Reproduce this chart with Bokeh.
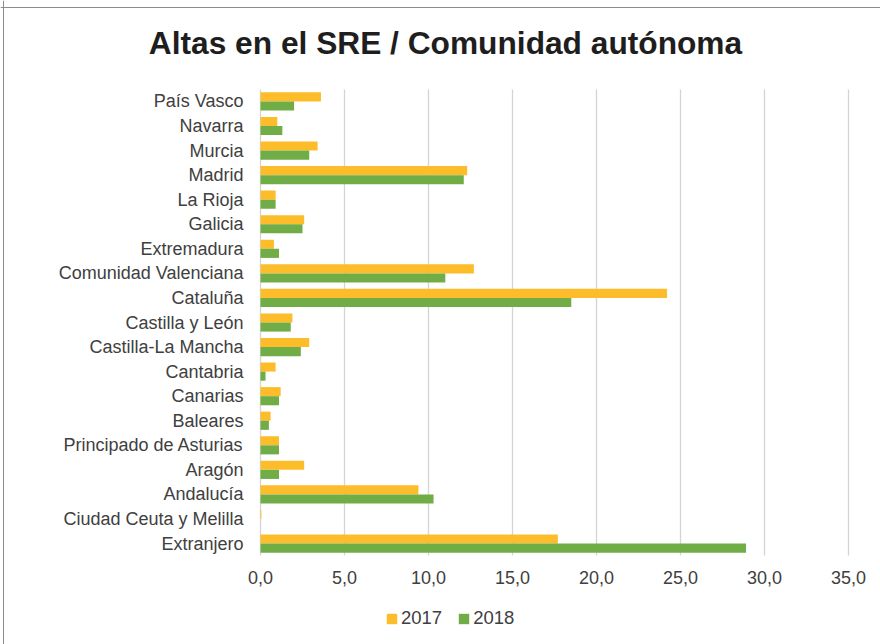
from bokeh.plotting import figure
from bokeh.models import (Range1d, FactorRange, FixedTicker, CustomJSTickFormatter,
                          Legend, LegendItem, Label, Span, ColumnDataSource)
from bokeh.transform import dodge
from bokeh.embed import file_html
from bokeh.resources import INLINE

title_text = "Altas en el SRE / Comunidad autónoma"
categories = ["País Vasco", "Navarra", "Murcia", "Madrid", "La Rioja", "Galicia",
              "Extremadura", "Comunidad Valenciana", "Cataluña", "Castilla y León",
              "Castilla-La Mancha", "Cantabria", "Canarias", "Baleares",
              "Principado de Asturias", "Aragón", "Andalucía",
              "Ciudad Ceuta y Melilla", "Extranjero"]
v2017 = [3.6, 1.0, 3.4, 12.3, 0.9, 2.6, 0.8, 12.7, 24.2, 1.9, 2.9, 0.9, 1.2, 0.6,
         1.1, 2.6, 9.4, 0.05, 17.7]
v2018 = [2.0, 1.3, 2.9, 12.1, 0.9, 2.5, 1.1, 11.0, 18.5, 1.8, 2.4, 0.3, 1.1, 0.5,
         1.1, 1.1, 10.3, 0.0, 28.9]
series_names = ["2017", "2018"]
x_ticks = [0, 5, 10, 15, 20, 25, 30, 35]

C2017 = "#FDBD2B"
C2018 = "#70AD47"
TEXT = "#404040"
FONT = "Liberation Sans"

# layout (pixels); the frame covers the whole canvas
W, H = 880, 644
PLOT_L, PLOT_R = 260, 848     # where x = 0 and x = 35 fall
CAT_H = 24.56                 # height of one category band
PAD_PX = (H - CAT_H * len(categories)) / 2
px_per_unit = (PLOT_R - PLOT_L) / x_ticks[-1]

src = ColumnDataSource(dict(cat=categories, a=v2017, b=v2018))

p = figure(width=W, height=H, output_backend="svg", toolbar_location=None,
           y_range=FactorRange(*reversed(categories),
                               range_padding=PAD_PX / CAT_H,
                               range_padding_units="absolute"),
           x_range=Range1d(-PLOT_L / px_per_unit, (W - PLOT_L) / px_per_unit))
p.min_border_left = 0
p.min_border_right = 0
p.min_border_top = 0
p.min_border_bottom = 0
p.outline_line_color = None
p.background_fill_color = "white"
p.border_fill_color = "white"

r1 = p.hbar(y=dodge("cat", 0.185, range=p.y_range), left=0, right="a", height=0.37,
            source=src, fill_color=C2017, line_color=None)
r2 = p.hbar(y=dodge("cat", -0.185, range=p.y_range), left=0, right="b", height=0.37,
            source=src, fill_color=C2018, line_color=None)

p.ygrid.grid_line_color = None
p.xgrid.ticker = FixedTicker(ticks=x_ticks)
p.xgrid.cross_bounds = (0, len(categories))
p.xgrid.grid_line_color = "#d4d4d4"
p.xgrid.grid_line_width = 1.3
p.xgrid.level = "underlay"

p.xaxis.ticker = FixedTicker(ticks=x_ticks)
p.xaxis.formatter = CustomJSTickFormatter(code="return tick.toFixed(1).replace('.', ',');")
p.xaxis.fixed_location = 0
p.yaxis.fixed_location = 0
for ax in (p.xaxis[0], p.yaxis[0]):
    ax.axis_line_color = None
    ax.major_tick_line_color = None
    ax.minor_tick_line_color = None
    ax.major_label_text_font = FONT
    ax.major_label_text_color = TEXT
    ax.major_label_text_font_size = "18px"
p.yaxis.major_label_standoff = 11
p.xaxis.major_label_standoff = 9

# chart-area border (top and left edges visible in the reference)
p.add_layout(Span(location=H - 7, location_units="screen", dimension="width",
                  line_color="#8c8c8c", line_width=1))
p.add_layout(Span(location=3, location_units="screen", dimension="height",
                  line_color="#8c8c8c", line_width=1))

title = Label(x=445, y=H - 54 + 12, x_units="screen", y_units="screen",
              text=title_text, text_align="center", text_baseline="alphabetic",
              text_font=FONT, text_font_style="bold", text_font_size="31.7px",
              text_color="#1e1e1e")
p.add_layout(title)

legend = Legend(items=[LegendItem(label=series_names[0], renderers=[r1]),
                       LegendItem(label=series_names[1], renderers=[r2])],
                location=(385, 15), orientation="horizontal",
                glyph_width=13, glyph_height=13, label_standoff=3, spacing=15,
                padding=0, margin=0, border_line_color=None,
                background_fill_alpha=0,
                label_text_font=FONT, label_text_font_size="18.5px",
                label_text_color=TEXT)
p.add_layout(legend, "center")

open("out.html", "w").write(file_html(p, INLINE))
